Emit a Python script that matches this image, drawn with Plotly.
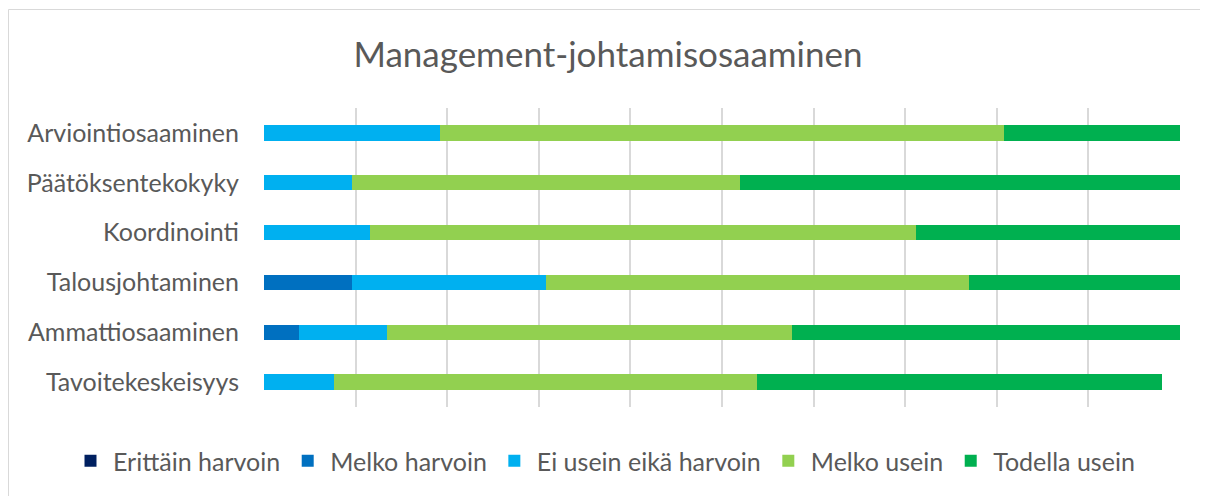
import plotly.graph_objects as go

# Respondent counts per answer (n = 52)
categories = ["Arviointiosaaminen", "Päätöksentekokyky", "Koordinointi",
              "Talousjohtaminen", "Ammattiosaaminen", "Tavoitekeskeisyys"]
n_respondents = 52

erittain_harvoin = [0, 0, 0, 0, 0, 0]
melko_harvoin = [0, 0, 0, 5, 2, 0]
ei_usein_eika_harvoin = [10, 5, 6, 11, 5, 4]
melko_usein = [32, 22, 31, 24, 23, 24]
todella_usein = [10, 25, 15, 12, 22, 23]

series_names = ["Erittäin harvoin", "Melko harvoin", "Ei usein eikä harvoin",
                "Melko usein", "Todella usein"]
series_values = [erittain_harvoin, melko_harvoin, ei_usein_eika_harvoin,
                 melko_usein, todella_usein]
colors = ["#002060", "#0070C0", "#00B0F0", "#92D050", "#00B050"]

FONT = "Lato, 'Open Sans', sans-serif"
TEXT_COLOR = "#595959"

# page has an 8px body margin, so the figure is 8px smaller than the window
W, H = 1200, 488
PLOT_L, PLOT_R, PLOT_T, PLOT_B = 256, 1172, 100, 399
PW, PH = PLOT_R - PLOT_L, PLOT_B - PLOT_T

fig = go.Figure()
for name, vals, col in zip(series_names, series_values, colors):
    pct = [v / n_respondents * 100 for v in vals]
    fig.add_trace(go.Bar(
        y=categories,
        x=pct,
        name=name,
        orientation="h",
        marker=dict(color=col, line=dict(width=0)),
        hovertemplate="%{y}<br>" + name + ": %{x:.1f} %<extra></extra>",
    ))

fig.update_layout(
    width=W,
    height=H,
    barmode="stack",
    bargap=0.69,
    paper_bgcolor="white",
    plot_bgcolor="white",
    margin=dict(l=PLOT_L, r=W - PLOT_R, t=PLOT_T, b=H - PLOT_B,
                autoexpand=False),
    font=dict(family=FONT, color=TEXT_COLOR, size=25),
    title=dict(
        text="Management-johtamisosaaminen",
        x=0.5, xanchor="center",
        y=1 - 47 / H, yanchor="middle",
        font=dict(size=35, color=TEXT_COLOR, family=FONT),
    ),
    xaxis=dict(
        range=[0, 100],
        dtick=10,
        showticklabels=False,
        showgrid=True,
        gridcolor="#d9d9d9",
        gridwidth=1.5,
        zeroline=False,
        showline=False,
        fixedrange=True,
    ),
    yaxis=dict(
        categoryorder="array",
        categoryarray=categories,
        autorange="reversed",
        showgrid=False,
        showline=False,
        ticklabelstandoff=24,
        tickfont=dict(size=25, color=TEXT_COLOR),
        fixedrange=True,
    ),
    # legend anchored left of the plot area so it gets the full width for one row
    legend=dict(
        orientation="h",
        x=(60 - PLOT_L) / PW, xanchor="left",
        y=(PLOT_B - 453) / PH, yanchor="middle",
        font=dict(size=25, color=TEXT_COLOR),
        traceorder="normal",
        itemwidth=35,
    ),
    shapes=[dict(
        type="rect", xref="paper", yref="paper",
        x0=(0.5 - PLOT_L) / PW, x1=(W + 20 - PLOT_L) / PW,
        y0=(PLOT_B - (H + 20)) / PH, y1=(PLOT_B - 1.5) / PH,
        line=dict(color="#d9d9d9", width=1),
        fillcolor="rgba(0,0,0,0)",
        layer="below",
    )],
)

fig.write_html("out.html")
